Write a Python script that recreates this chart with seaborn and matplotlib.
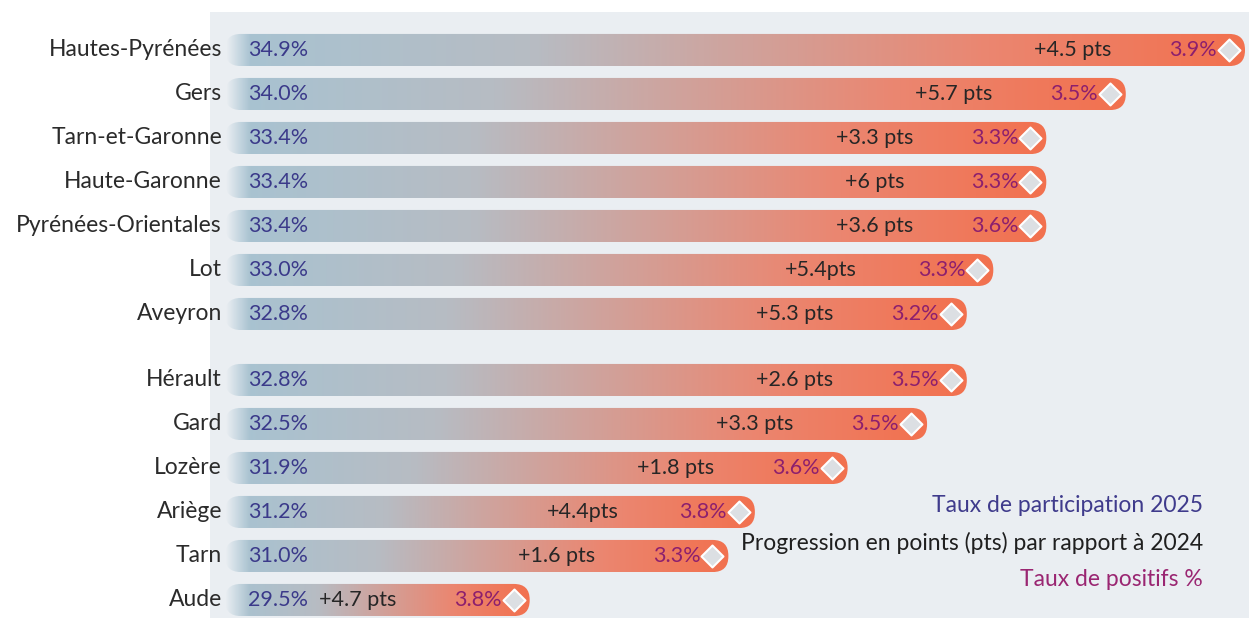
import numpy as np
import pandas as pd
import matplotlib
matplotlib.use("Agg")
import matplotlib.pyplot as plt
import seaborn as sns
from matplotlib.patches import FancyBboxPatch
from matplotlib.colors import LinearSegmentedColormap

# Data
departements = ["Hautes-Pyrénées", "Gers", "Tarn-et-Garonne", "Haute-Garonne",
                "Pyrénées-Orientales", "Lot", "Aveyron", "Hérault", "Gard",
                "Lozère", "Ariège", "Tarn", "Aude"]
participation = [34.9, 34.0, 33.4, 33.4, 33.4, 33.0, 32.8, 32.8, 32.5, 31.9, 31.2, 31.0, 29.5]
progression = ["+4.5 pts", "+5.7 pts", "+3.3 pts", "+6 pts", "+3.6 pts", "+5.4pts",
               "+5.3 pts", "+2.6 pts", "+3.3 pts", "+1.8 pts", "+4.4pts", "+1.6 pts", "+4.7 pts"]
positifs = [3.9, 3.5, 3.3, 3.3, 3.6, 3.3, 3.2, 3.5, 3.5, 3.6, 3.8, 3.3, 3.8]
groupe = ["ouest"] * 7 + ["est"] * 6

df = pd.DataFrame({"departement": departements, "participation": participation,
                   "progression": progression, "positifs": positifs, "groupe": groupe})
# row position, with a gap between the two groups
df["pos"] = np.arange(len(df)) + np.where(df["groupe"] == "est", 0.5, 0.0)

sns.set_style("white")
plt.rcParams["font.family"] = ["Lato", "DejaVu Sans"]

W, H = 1249, 618
fig = plt.figure(figsize=(W / 100, H / 100), dpi=100)
ax = fig.add_axes([0, 0, 1, 1])
ax.set_facecolor("none")

x0 = 27.2      # where the bars start
px_x = 1020 / (34.9 - x0)   # pixels per point of participation
px_y = 44.0    # pixels per row
bar_h = 0.73

sns.barplot(data=df, x="participation", y="pos", orient="h", native_scale=True,
            width=bar_h, color="#f07458", errorbar=None, ax=ax)
bars = list(ax.patches)

xlim = (x0 - 225 / px_x, x0 + (W - 225) / px_x)
ylim = (12.5 + 18 / px_y, -50 / px_y)

# light panel behind the chart
ax.axvspan(x0 - 15 / px_x, xlim[1], ymin=0, ymax=1 - 12 / H, color="#eaeef2", zorder=0, lw=0)

cmap = LinearSegmentedColormap.from_list(
    "bar", [(0, "#a7c3d2"), (0.3, "#b7bcc3"), (0.5, "#cfa39d"), (0.75, "#eb8670"), (1, "#f2714f")])
aspect = px_x / px_y
r = 0.49 * bar_h / aspect

for bar in bars:
    y, h, end = bar.get_y(), bar.get_height(), bar.get_width()
    bar.set_visible(False)
    shape = FancyBboxPatch((x0, y), end - x0, h, boxstyle=f"round,pad=0,rounding_size={r}",
                           mutation_aspect=aspect, fc="none", ec="none")
    ax.add_patch(shape)
    t = np.linspace(0, 1, 300)
    rgba = cmap(t)
    rgba[:, 3] = np.clip(t * (end - x0) * px_x / 24, 0, 1)
    img = ax.imshow(rgba[None, :, :], extent=[x0, end, y, y + h], aspect="auto",
                    interpolation="bilinear", zorder=2)
    img.set_clip_path(shape)

# diamonds at the end of each bar
ax.scatter(df["participation"] - 16 / px_x, df["pos"], marker="D", s=125,
           fc="#dcdfe3", ec="white", lw=1.5, zorder=4)

for _, row in df.iterrows():
    ax.annotate(row.departement, (x0, row.pos), xytext=(-3, 0), textcoords="offset pixels",
                ha="right", va="center", fontsize=16.5, color="#2b2b2b")
    ax.annotate(f"{row.participation:.1f}%", (x0, row.pos), xytext=(23, 0),
                textcoords="offset pixels", ha="left", va="center", fontsize=15.5,
                color="#3b3a8a", zorder=5)
    ax.annotate(row.progression, (row.participation, row.pos), xytext=(-172, 0),
                textcoords="offset pixels", ha="center", va="center", fontsize=15.5,
                color="#262626", zorder=5)
    ax.annotate(f"{row.positifs:.1f}%", (row.participation, row.pos), xytext=(-28, 0),
                textcoords="offset pixels", ha="right", va="center", fontsize=15.5,
                color="#8c1f6e", zorder=5)

ax.set_xlim(*xlim)
ax.set_ylim(*ylim)
ax.axis("off")

fig.text(1203 / W, 1 - 505 / H, "Taux de participation 2025", ha="right", va="center",
         fontsize=16.5, color="#3f3b8c")
fig.text(1203 / W, 1 - 543 / H, "Progression en points (pts) par rapport à 2024", ha="right",
         va="center", fontsize=16.5, color="#1f1f1f")
fig.text(1203 / W, 1 - 580 / H, "Taux de positifs %", ha="right", va="center",
         fontsize=16.5, color="#9a2672")

fig.savefig("out.png", dpi=100)
